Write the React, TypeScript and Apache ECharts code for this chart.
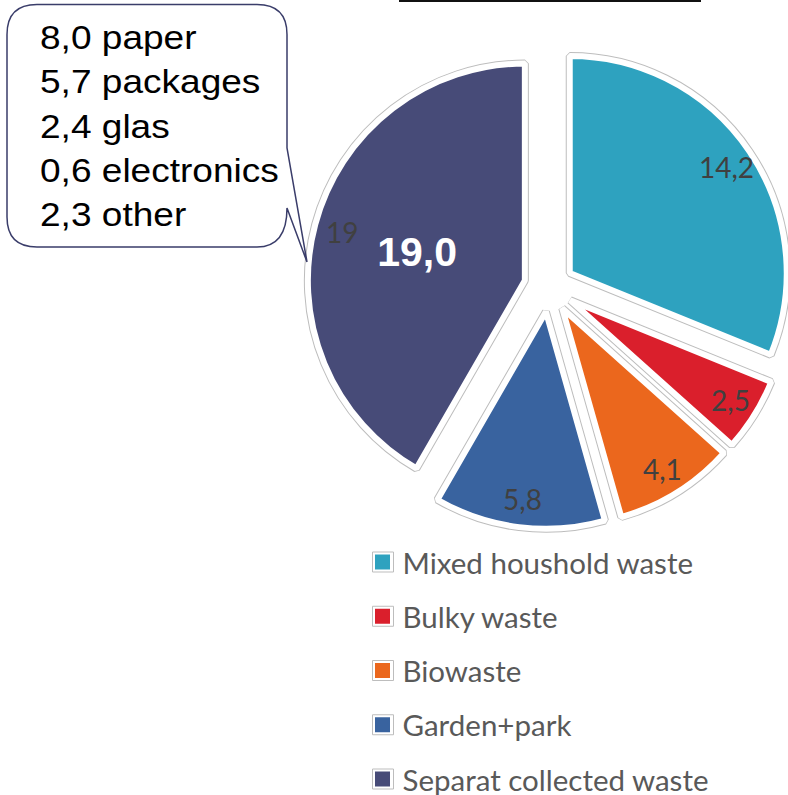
import React, { useEffect, useRef } from "react";
import * as echarts from "echarts";

const categories = [
  "Mixed houshold waste",
  "Bulky waste",
  "Biowaste",
  "Garden+park",
  "Separat collected waste",
];
const values = [14.2, 2.5, 4.1, 5.8, 19];
const colors = ["#2EA2BF", "#DA1F2C", "#EB671D", "#39639F", "#474B78"];
const highlightIndex = 4;
const calloutLines = [
  "8,0 paper",
  "5,7 packages",
  "2,4 glas",
  "0,6 electronics",
  "2,3 other",
];

const calloutPath =
  "M 37 4.5 H 257 Q 287 4.5 287 34.5 V 148 L 307 262 L 287 208 Q 287 247 257 247 H 37 Q 7 247 7 217 V 34.5 Q 7 4.5 37 4.5 Z";

let registered = false;
function registerShapes() {
  if (registered) return;
  echarts.graphic.registerShape(
    "callout",
    echarts.graphic.extendPath(calloutPath, {}) as any
  );
  registered = true;
}

const fmt = (v: number) => String(v).replace(".", ",");

export default function App() {
  const ref = useRef<HTMLDivElement>(null);
  useEffect(() => {
    document.body.style.margin = "0";
    registerShapes();
    const chart = echarts.init(ref.current!, null, { renderer: "svg" });
    const CX = 549;
    const CY = 287;
    const R = 217;
    const OFFSET = 25;

    const mainData = categories.map((name, i) => ({
      name,
      value: values[i],
      selected: true,
      itemStyle: { color: colors[i] },
      label:
        i === highlightIndex
          ? {
              show: true,
              position: "inside",
              formatter: (p: any) => p.value.toFixed(1).replace(".", ","),
              color: "#ffffff",
              fontWeight: "bold",
              fontSize: 41,
              fontFamily: "Liberation Sans, Arial, sans-serif",
              offset: [5, 2],
            }
          : { show: false },
    }));

    const outlineData = categories.map((name, i) => ({
      name,
      value: values[i],
      selected: true,
    }));

    const labelData = categories.map((name, i) => ({
      name,
      value: values[i],
      selected: true,
    }));

    chart.setOption({
      animation: false,
      backgroundColor: "#ffffff",
      legend: [
        {
          orient: "vertical",
          left: 372,
          top: 547,
          padding: 0,
          itemGap: 24.25,
          itemWidth: 21,
          itemHeight: 20,
          icon: "rect",
          selectedMode: false,
          data: categories,
          itemStyle: {
            color: "#ffffff",
            borderColor: "#bdbdbd",
            borderWidth: 1,
          },
          textStyle: {
            fontSize: 29.5,
            lineHeight: 30,
            fontFamily: "Lato, sans-serif",
            color: "#595959",
            padding: [0, 0, 0, 4],
          },
          z: 5,
        },
        {
          orient: "vertical",
          left: 375,
          top: 554.5,
          padding: 0,
          itemGap: 39.25,
          itemWidth: 15,
          itemHeight: 15,
          icon: "rect",
          selectedMode: false,
          data: categories,
          formatter: () => "",
          itemStyle: { borderWidth: 0 },
          textStyle: { fontSize: 1, lineHeight: 1 },
          z: 6,
        },
      ],
      series: [
        {
          name: "main",
          type: "pie",
          center: [CX, CY],
          radius: R,
          startAngle: 90,
          clockwise: true,
          selectedMode: "multiple",
          selectedOffset: OFFSET,
          avoidLabelOverlap: false,
          silent: true,
          z: 3,
          itemStyle: {
            borderColor: "#ffffff",
            borderWidth: 6,
            borderJoin: "bevel",
          },
          labelLine: { show: false },
          data: mainData,
        },
        {
          name: "outline",
          type: "pie",
          center: [CX, CY],
          radius: R,
          startAngle: 90,
          clockwise: true,
          selectedMode: "multiple",
          selectedOffset: OFFSET,
          silent: true,
          legendHoverLink: false,
          z: 2,
          itemStyle: {
            color: "#ffffff",
            borderColor: "#bdbdbd",
            borderWidth: 8,
            borderJoin: "bevel",
          },
          label: { show: false },
          labelLine: { show: false },
          data: outlineData,
        },
        {
          name: "labels",
          type: "pie",
          center: [CX, CY],
          radius: 372,
          startAngle: 90,
          clockwise: true,
          selectedMode: "multiple",
          selectedOffset: OFFSET,
          avoidLabelOverlap: false,
          silent: true,
          legendHoverLink: false,
          z: 4,
          itemStyle: { color: "rgba(0,0,0,0)", borderWidth: 0 },
          label: {
            show: true,
            position: "inside",
            formatter: (p: any) => fmt(p.value),
            color: "#404040",
            fontSize: 28,
            fontFamily: "Lato, sans-serif",
          },
          labelLine: { show: false },
          data: labelData,
        },
      ],
      graphic: [
        {
          type: "rect",
          shape: { x: 399, y: 0, width: 302, height: 2 },
          style: { fill: "#111111" },
          z: 10,
        },
        {
          type: "callout",
          x: 0,
          y: 0,
          style: { fill: "#ffffff", stroke: "#3a3d6a", lineWidth: 1.5 },
          z: 10,
        },
        ...calloutLines.map((t, i) => ({
          type: "text",
          x: 40,
          y: 37.7 + i * 44.3,
          scaleX: 1.09,
          z: 11,
          style: {
            text: t,
            fontSize: 34,
            fontFamily: "Liberation Sans, Arial, sans-serif",
            fill: "#000000",
            verticalAlign: "middle",
          },
        })),
      ],
    });
    return () => chart.dispose();
  }, []);
  return <div ref={ref} style={{ width: 788, height: 795 }} />;
}
